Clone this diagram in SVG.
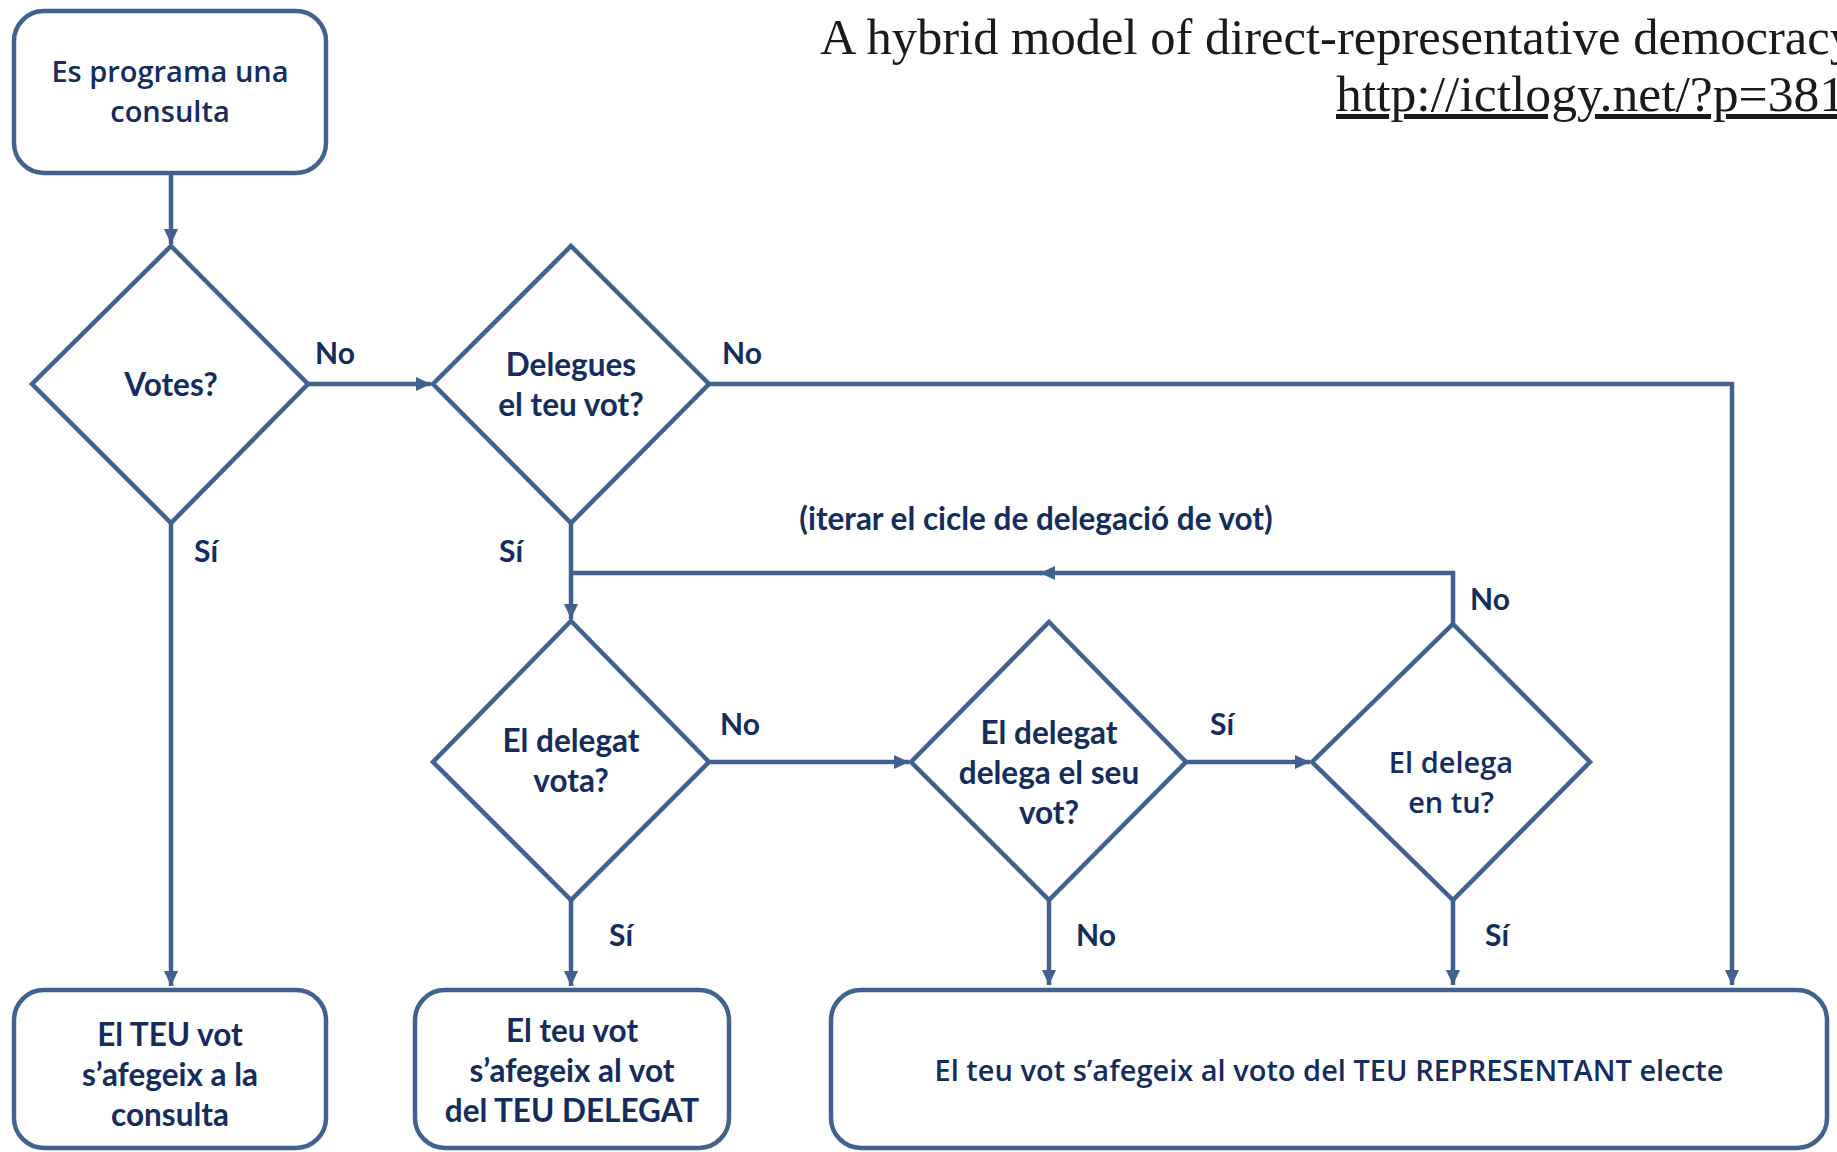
<svg xmlns="http://www.w3.org/2000/svg" width="1837" height="1152" viewBox="0 0 1837 1152">
<style>
.shape{fill:#ffffff;stroke:#41628f;stroke-width:4.5}
.con{fill:none;stroke:#41628f;stroke-width:4.5}
.c{font-family:Lato,"Liberation Sans",sans-serif;font-weight:700;font-size:31.5px;fill:#142d5e;text-anchor:middle}
.o{font-family:"Open Sans","Liberation Sans",sans-serif;font-weight:600;font-size:29px;fill:#142d5e;text-anchor:middle}
.lbl{font-family:Lato,"Liberation Sans",sans-serif;font-weight:700;font-size:30px;fill:#142d5e}
.t{font-family:"Liberation Serif",serif;font-size:50px;fill:#1a1a1a}
</style>
<defs>
<marker id="ah" markerUnits="userSpaceOnUse" markerWidth="16" markerHeight="16" viewBox="0 0 16 16" refX="15" refY="8" orient="auto">
<path d="M0,1 L15,8 L0,15 Z" fill="#41628f"/>
</marker>
</defs>
<rect width="1837" height="1152" fill="#ffffff"/>
<g id="title">
<text class="t" x="820" y="54" textLength="1035" lengthAdjust="spacingAndGlyphs">A hybrid model of direct-representative democracy</text>
<text class="t" x="1336" y="111" text-decoration="underline" textLength="535" lengthAdjust="spacingAndGlyphs">http://ictlogy.net/?p=3812</text>
</g>
<g id="connectors">
<path class="con" d="M171,173 V244" marker-end="url(#ah)"/>
<path class="con" d="M308,384 H431" marker-end="url(#ah)"/>
<path class="con" d="M709,384 H1732 V985" marker-end="url(#ah)"/>
<path class="con" d="M171,523 V986" marker-end="url(#ah)"/>
<path class="con" d="M571,523 V619" marker-end="url(#ah)"/>
<path class="con" d="M1453,624 V573 H1040" marker-end="url(#ah)"/>
<path class="con" d="M1042,573 H571"/>
<path class="con" d="M709,762 H909" marker-end="url(#ah)"/>
<path class="con" d="M1186,762 H1310" marker-end="url(#ah)"/>
<path class="con" d="M571,900 V986" marker-end="url(#ah)"/>
<path class="con" d="M1049,900 V985" marker-end="url(#ah)"/>
<path class="con" d="M1453,900 V985" marker-end="url(#ah)"/>
<text class="lbl" x="315" y="364">No</text>
<text class="lbl" x="722" y="364">No</text>
<text class="lbl" x="194" y="562">Sí</text>
<text class="lbl" x="499" y="562">Sí</text>
<text class="lbl" x="1470" y="610">No</text>
<text class="lbl" x="720" y="735">No</text>
<text class="lbl" x="1210" y="735">Sí</text>
<text class="lbl" x="609" y="946">Sí</text>
<text class="lbl" x="1076" y="946">No</text>
<text class="lbl" x="1485" y="946">Sí</text>
<text class="c" x="1036" y="530">(iterar el cicle de delegació de vot)</text>
</g>
<g id="start">
<rect class="shape" x="14" y="11" width="312" height="162" rx="30"/>
<text class="o" x="170" y="82">Es programa una</text>
<text class="o" x="170" y="122">consulta</text>
</g>
<g id="votes">
<polygon class="shape" points="171,246 308,384 171,523 32,384"/>
<text class="c" x="171" y="396">Votes?</text>
</g>
<g id="delegues">
<polygon class="shape" points="571,246 709,384 571,523 433,384"/>
<text class="c" x="571" y="376">Delegues</text>
<text class="c" x="571" y="416">el teu vot?</text>
</g>
<g id="delegat-vota">
<polygon class="shape" points="571,621 709,762 571,900 433,762"/>
<text class="c" x="571" y="752">El delegat</text>
<text class="c" x="571" y="792">vota?</text>
</g>
<g id="delegat-delega">
<polygon class="shape" points="1049,622 1186,762 1049,900 911,762"/>
<text class="c" x="1049" y="744">El delegat</text>
<text class="c" x="1049" y="784">delega el seu</text>
<text class="c" x="1049" y="824">vot?</text>
</g>
<g id="delega-tu">
<polygon class="shape" points="1453,624 1590,762 1453,900 1312,762"/>
<text class="o" x="1451" y="773">El delega</text>
<text class="o" x="1451" y="813">en tu?</text>
</g>
<g id="box-consulta">
<rect class="shape" x="14" y="990" width="312" height="158" rx="30"/>
<text class="c" x="170" y="1046">El TEU vot</text>
<text class="c" x="170" y="1086">s’afegeix a la</text>
<text class="c" x="170" y="1126">consulta</text>
</g>
<g id="box-delegat">
<rect class="shape" x="415" y="990" width="314" height="158" rx="30"/>
<text class="c" x="572" y="1042">El teu vot</text>
<text class="c" x="572" y="1082">s’afegeix al vot</text>
<text class="c" x="572" y="1122">del TEU DELEGAT</text>
</g>
<g id="box-representant">
<rect class="shape" x="831" y="990" width="996" height="158" rx="30"/>
<text class="o" x="1329" y="1081">El teu vot s’afegeix al voto del TEU REPRESENTANT electe</text>
</g>
</svg>
